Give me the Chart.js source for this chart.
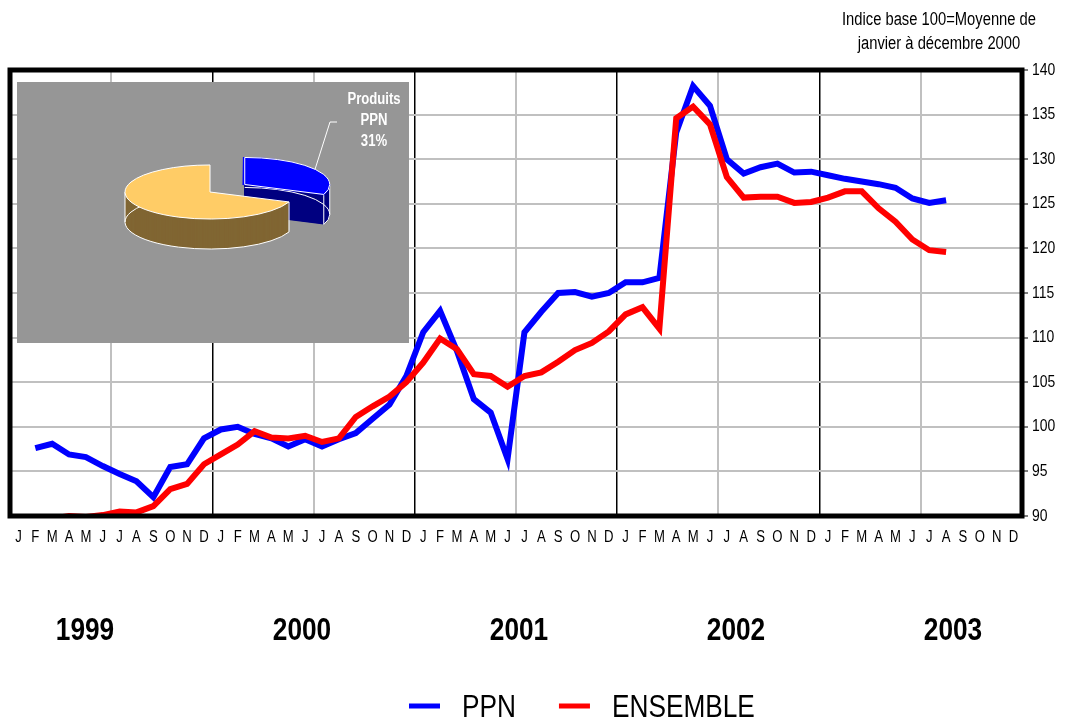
<!DOCTYPE html>
<html lang="fr">
<head>
<meta charset="UTF-8">
<title>PPN et ensemble des prix</title>
<script src="https://cdn.jsdelivr.net/npm/chart.js"></script>
<style>
body {
margin: 0;
background: #fff;
font-family: 'Liberation Sans', Arial, sans-serif;
}
.wrap {
position: relative;
width: 1066px;
height: 722px;
overflow: hidden;
}
.main {
position: absolute;
left: 0;
top: 0;
width: 1066px;
height: 722px;
}
/* no narrow font installed: squeeze the sans horizontally instead */
.note {
position: absolute;
left: 939px;
top: 7px;
text-align: center;
font-size: 18px;
line-height: 24px;
white-space: nowrap;
transform: translateX(-50%) scaleX(0.82);
}
.year {
position: absolute;
top: 612px;
font-size: 32px;
font-weight: bold;
line-height: 34px;
transform: translateX(-50%) scaleX(0.82);
}
.inset {
position: absolute;
left: 17px;
top: 82px;
width: 392px;
height: 261px;
background: #969696;
}
</style>
</head>
<body>

<div class="wrap">
<div class="main"><canvas id="priceChart"></canvas></div>
<div class="note">Indice base 100=Moyenne de<br>janvier à décembre 2000</div>
<div id="years"></div>
<div class="inset"><canvas id="pieChart"></canvas></div>
</div>

<script>
const FONT = "'Liberation Sans', Arial, sans-serif";
const NARROW = 0.82;

const months = ['J', 'F', 'M', 'A', 'M', 'J', 'J', 'A', 'S', 'O', 'N', 'D'];
const years = ['1999', '2000', '2001', '2002', '2003'];
const monthLabels = years.flatMap(() => months);

// indices mensuels, base 100 = moyenne 2000
const ppn = [
  null, 97.6, 98.1, 96.9, 96.6, 95.6, 94.7, 93.9, 92.1, 95.5, 95.8, 98.7,
  99.7, 100.0, 99.2, 98.7, 97.8, 98.6, 97.8, 98.6, 99.3, 100.9, 102.5, 105.7,
  110.6, 113.0, 108.5, 103.1, 101.6, 96.4, 110.6, 112.9, 115.0, 115.1, 114.6, 115.0,
  116.2, 116.2, 116.7, 133.0, 138.2, 136.0, 130.0, 128.4, 129.1, 129.5, 128.5, 128.6,
  128.2, 127.8, 127.5, 127.2, 126.8, 125.6, 125.1, 125.4, null, null, null, null
];
const ensemble = [
  null, 89.3, 89.7, 90.0, 89.9, 90.1, 90.5, 90.4, 91.1, 93.0, 93.6, 95.8,
  96.9, 98.0, 99.5, 98.8, 98.7, 99.0, 98.3, 98.7, 101.1, 102.3, 103.4, 105.0,
  107.2, 109.9, 108.7, 105.9, 105.7, 104.5, 105.7, 106.1, 107.3, 108.6, 109.4, 110.7,
  112.6, 113.4, 111.0, 134.6, 135.9, 133.9, 128.0, 125.7, 125.8, 125.8, 125.1, 125.2,
  125.7, 126.4, 126.4, 124.5, 123.0, 121.0, 119.8, 119.6, null, null, null, null
];
const yMin = 90;
const yMax = 140;
const yStep = 5;

// poids des produits PPN dans l'indice
const pieLabels = ['Autres produits', 'Produits PPN'];
const pieShares = [69, 31];

Chart.defaults.font.family = FONT;
Chart.defaults.color = '#000';

// year captions under the month letters
const yearCenters = [85, 302, 519, 736, 953];
document.getElementById('years').innerHTML = years.map((y, i) =>
  `<div class="year" style="left:${yearCenters[i]}px">${y}</div>`).join('');

function narrowText(ctx, text, x, y) {
  ctx.save();
  ctx.translate(x, y);
  ctx.scale(NARROW, 1);
  ctx.fillText(text, 0, 0);
  ctx.restore();
}

const framePlugin = {
  id: 'frame',
  afterDraw(chart) {
    const {ctx, chartArea: a} = chart;
    ctx.save();
    ctx.strokeStyle = '#000';
    ctx.lineWidth = 5;
    ctx.strokeRect(a.left, a.top, a.right - a.left, a.bottom - a.top);
    ctx.restore();
  }
};

// tick labels drawn from the scales' own ticks, squeezed like Arial Narrow
const narrowTicks = {
  id: 'narrowTicks',
  afterDraw(chart) {
    const ctx = chart.ctx;
    const xs = chart.scales.x;
    const ys = chart.scales.y;
    ctx.save();
    ctx.fillStyle = '#000';
    ctx.textBaseline = 'middle';
    ctx.textAlign = 'center';
    ctx.font = '16px ' + FONT;
    xs.ticks.forEach((t, i) => narrowText(ctx, t.label, xs.getPixelForTick(i), 538));
    ctx.textAlign = 'left';
    ctx.font = '17px ' + FONT;
    ys.ticks.forEach(t => narrowText(ctx, t.label, ys.left + 10, ys.getPixelForValue(t.value)));
    ctx.restore();
  }
};

const bottomLegend = {
  id: 'bottomLegend',
  afterDraw(chart, args, opts) {
    const ctx = chart.ctx;
    ctx.save();
    ctx.font = '32px ' + FONT;
    ctx.textBaseline = 'middle';
    let x = opts.x;
    chart.data.datasets.forEach(ds => {
      ctx.fillStyle = ds.borderColor;
      ctx.fillRect(x, opts.y - 2.5, 31, 5);
      x += 53;
      ctx.fillStyle = '#000';
      narrowText(ctx, ds.label, x, opts.y + 2);
      x += ctx.measureText(ds.label).width * NARROW + 43;
    });
    ctx.restore();
  }
};

new Chart(document.getElementById('priceChart'), {
  type: 'line',
  data: {
    labels: monthLabels,
    datasets: [
      {
        label: 'PPN',
        data: ppn,
        borderColor: '#0000FF',
        backgroundColor: '#0000FF',
        borderWidth: 6,
        pointRadius: 0,
        tension: 0,
        order: 1
      },
      {
        label: 'ENSEMBLE',
        data: ensemble,
        borderColor: '#FF0000',
        backgroundColor: '#FF0000',
        borderWidth: 6,
        pointRadius: 0,
        tension: 0,
        order: 0
      }
    ]
  },
  options: {
    responsive: true,
    maintainAspectRatio: false,
    animation: false,
    layout: {padding: {left: 10, top: 70, right: 0, bottom: 0}},
    plugins: {
      legend: {display: false},
      tooltip: {enabled: false},
      bottomLegend: {x: 409, y: 706}
    },
    scales: {
      x: {
        offset: true,
        border: {display: false},
        grid: {
          offset: true,
          drawTicks: false,
          color: c => {
            if (c.index === undefined || c.index === 0 || c.index >= 60) return 'rgba(0,0,0,0)';
            if (c.index % 12 === 0) return '#000';
            if (c.index % 6 === 0) return '#C0C0C0';
            return 'rgba(0,0,0,0)';
          },
          lineWidth: c => (c.index % 12 === 0 ? 1.5 : 2)
        },
        ticks: {autoSkip: false, maxRotation: 0, display: false},
        afterFit: s => { s.height = 206; }
      },
      y: {
        position: 'right',
        min: yMin,
        max: yMax,
        border: {display: false},
        grid: {
          color: c => (c.tick && c.tick.value > yMin && c.tick.value < yMax) ? '#C0C0C0' : 'rgba(0,0,0,0)',
          lineWidth: 2,
          tickColor: '#000',
          tickLength: 6,
          tickWidth: 1
        },
        ticks: {stepSize: yStep, display: false},
        afterFit: s => { s.width = 44; }
      }
    }
  },
  plugins: [framePlugin, narrowTicks, bottomLegend]
});

// ---- inset: 3D-looking pie ----
const pieTilt = 0.318;
const pieDepth = 30;
const pieTops = ['#FFCC66', '#0000FF'];
const pieSides = ['#806633', '#000080'];

function arcShift(arc) {
  // same translation Chart.js applies for an exploded slice
  const off = (arc.options.offset || 0) / 4;
  const mid = (arc.startAngle + arc.endAngle) / 2;
  const fix = 1 - Math.sin(Math.min(Math.PI, arc.endAngle - arc.startAngle));
  return {dx: Math.cos(mid) * off * (1 + fix), dy: Math.sin(mid) * off * (1 + fix)};
}

function sector(ctx, x, y, r, s, e) {
  ctx.beginPath();
  ctx.moveTo(x, y);
  ctx.arc(x, y, r, s, e);
  ctx.closePath();
}

function tilt(ctx, cy) {
  ctx.translate(0, cy);
  ctx.scale(1, pieTilt);
  ctx.translate(0, -cy);
}

const pie3d = {
  id: 'pie3d',
  beforeDatasetsDraw(chart) {
    const ctx = chart.ctx;
    const meta = chart.getDatasetMeta(0);
    const cy = (chart.chartArea.top + chart.chartArea.bottom) / 2;
    const idx = meta.data.map((a, i) => i).reverse();
    idx.forEach(i => {
      const arc = meta.data[i];
      const p = arcShift(arc);
      ctx.save();
      tilt(ctx, cy);
      ctx.fillStyle = pieSides[i];
      for (let d = pieDepth; d >= 1; d -= 0.5) {
        sector(ctx, arc.x + p.dx, arc.y + p.dy + d / pieTilt, arc.outerRadius, arc.startAngle, arc.endAngle);
        ctx.fill();
      }
      // rim of the bottom face, built tilted, stroked flat
      ctx.beginPath();
      ctx.arc(arc.x + p.dx, arc.y + p.dy + pieDepth / pieTilt, arc.outerRadius, arc.startAngle, arc.endAngle);
      ctx.restore();
      ctx.strokeStyle = '#fff';
      ctx.lineWidth = 1;
      ctx.stroke();
      // vertical edges at the visible rim corners
      ctx.beginPath();
      [arc.startAngle, arc.endAngle, Math.PI, 2 * Math.PI, 3 * Math.PI].forEach(a => {
        if (a < arc.startAngle - 1e-6 || a > arc.endAngle + 1e-6) return;
        if (Math.sin(a) < -0.05) return;
        const sx = arc.x + p.dx + arc.outerRadius * Math.cos(a);
        const sy = cy + (arc.y + p.dy + arc.outerRadius * Math.sin(a) - cy) * pieTilt;
        ctx.moveTo(sx, sy);
        ctx.lineTo(sx, sy + pieDepth);
      });
      ctx.stroke();
    });
    ctx.save();
    tilt(ctx, cy);
  },
  afterDatasetsDraw(chart) {
    const ctx = chart.ctx;
    ctx.restore();
    const meta = chart.getDatasetMeta(0);
    const cy = (chart.chartArea.top + chart.chartArea.bottom) / 2;
    // white outline of top faces
    meta.data.forEach(arc => {
      const p = arcShift(arc);
      ctx.save();
      tilt(ctx, cy);
      sector(ctx, arc.x + p.dx, arc.y + p.dy, arc.outerRadius, arc.startAngle, arc.endAngle);
      ctx.restore();
      ctx.strokeStyle = '#fff';
      ctx.lineWidth = 1;
      ctx.stroke();
    });
    // label for the PPN slice
    const arc = meta.data[1];
    const p = arcShift(arc);
    const mid = (arc.startAngle + arc.endAngle) / 2;
    const ax = arc.x + p.dx + arc.outerRadius * Math.cos(mid);
    const ay = cy + (arc.y + p.dy + arc.outerRadius * Math.sin(mid) - cy) * pieTilt;
    ctx.save();
    ctx.strokeStyle = '#fff';
    ctx.lineWidth = 1;
    ctx.beginPath();
    ctx.moveTo(ax, ay);
    ctx.lineTo(313, 40);
    ctx.lineTo(320, 40);
    ctx.stroke();
    ctx.fillStyle = '#fff';
    ctx.font = 'bold 16px ' + FONT;
    ctx.textAlign = 'center';
    ctx.textBaseline = 'middle';
    const words = pieLabels[1].split(' ');
    narrowText(ctx, words[0], 357, 18);
    narrowText(ctx, words[1], 357, 39);
    narrowText(ctx, pieShares[1] + '%', 357, 60);
    ctx.restore();
  }
};

new Chart(document.getElementById('pieChart'), {
  type: 'pie',
  data: {
    labels: pieLabels,
    datasets: [{
      data: pieShares,
      backgroundColor: pieTops,
      borderWidth: 0,
      offset: [0, 157],
      hoverOffset: 0,
      radius: 85,
      clip: false
    }]
  },
  options: {
    responsive: true,
    maintainAspectRatio: false,
    animation: false,
    rotation: 360 * pieShares[1] / (pieShares[0] + pieShares[1]),
    layout: {padding: {left: 0, right: 6, top: 0, bottom: 41}},
    plugins: {
      legend: {display: false},
      tooltip: {enabled: false}
    }
  },
  plugins: [pie3d]
});
</script>

</body>
</html>
